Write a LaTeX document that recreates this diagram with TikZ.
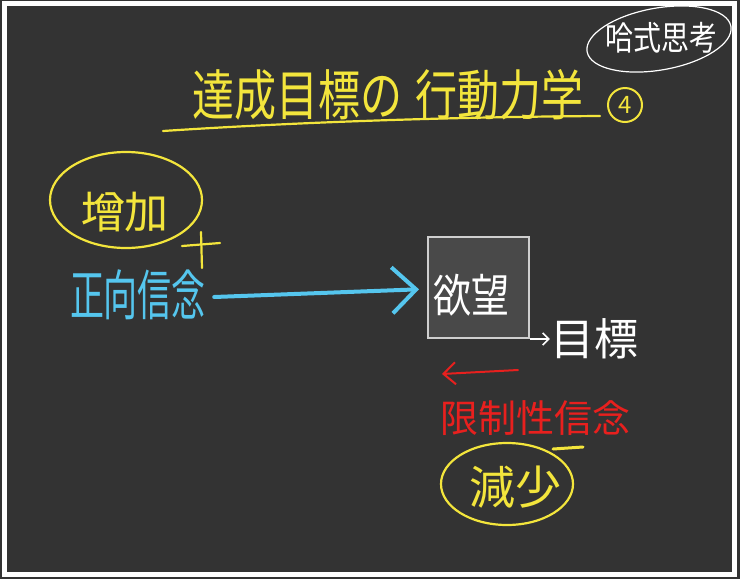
\documentclass[tikz,border=0pt]{standalone}
\usepackage{fontspec}
\newfontfamily\cjk{Noto Sans CJK JP}
\usetikzlibrary{arrows.meta}
\definecolor{bgc}{HTML}{333333}
\definecolor{yc}{HTML}{F3E53C}
\definecolor{cc}{HTML}{55C6EE}
\definecolor{rc}{HTML}{E8201E}
\definecolor{boxf}{HTML}{494949}
\definecolor{boxb}{HTML}{CFCFCF}
\newcommand\fsz[1]{\fontsize{#1pt}{#1pt}\selectfont}
\tikzset{
  ytext/.style={text=yc, font=\cjk\fsz{#1}, inner sep=0pt},
  ctext/.style={text=cc, font=\cjk\fsz{#1}, inner sep=0pt},
  rtext/.style={text=rc, font=\cjk\fsz{#1}, inner sep=0pt},
  wtext/.style={text=white, font=\cjk\fsz{#1}, inner sep=0pt},
  yline/.style={draw=yc, line width=2.2pt, line cap=round},
  wline/.style={draw=white, line width=1.2pt},
}
\begin{document}
\begin{tikzpicture}[x=1pt,y=-1pt]
\useasboundingbox (0,0) rectangle (740,579);
\fill[bgc] (0,0) rectangle (740,579);
\draw[white, line width=5pt] (4.5,3) rectangle (734.5,574);

% title
\node[ytext=42, yscale=1.3, transform shape] (title) at (388,95) {達成目標の\hspace{14pt}行動力学};
\coordinate (ul1) at (163,131);
\coordinate (ul2) at (600,116);
\draw[yline] (ul1) .. controls (300,122) and (450,117) .. (ul2);
\node[circle, draw=yc, line width=2pt, minimum size=34pt, inner sep=0pt, text=yc, font=\cjk\fsz{24}] (four) at (625,105) {4};

% top right
\node[wtext=28, yscale=1.2, transform shape] (hs) at (661,38) {哈式思考};
\draw[wline, rotate around={10:(659,39)}] (659,39) ellipse [x radius=73, y radius=31];

% increase
\node[ytext=44] (zj) at (125,212) {增加};
\draw[yline] (126,200) ellipse [x radius=76, y radius=48];
\draw[yline] (182,246) -- (220,243);
\draw[yline] (201,232) -- (202,268);

% positive belief
\node[ctext=34, yscale=1.6, transform shape] (zx) at (138,295) {正向信念};

% desire box
\node[draw=boxb, fill=boxf, line width=2pt, minimum width=101pt, minimum height=101pt, inner sep=0pt] (box) at (478.5,287.5) {};
\node[wtext=38, yscale=1.2, transform shape] (yw) at (471,295) {欲望};
\draw[cc, line width=4pt, line cap=round, -{Straight Barb[length=24pt,width=46pt,line width=4pt]}, shorten >=8pt] (zx.east) ++(8,2) -- (box.west |- 0,289);

% goal
\node[wtext=44] (mb) at (594,339) {目標};
\draw[white, line width=1.5pt, -{Straight Barb[length=6pt,width=12pt]}] (box.south east) -- (mb.west |- box.south east);

% red arrow
\coordinate (ra1) at (518,370);
\coordinate (ra2) at (442,374);
\draw[rc, line width=2pt, line cap=round, -{Straight Barb[length=12pt,width=22pt]}] (ra1) -- (ra2);
\node[rtext=38] (xz) at (535,418) {限制性信念};

% decrease
\node[ytext=46] (js) at (515,487) {減少};
\draw[yline] (507,484) ellipse [x radius=66, y radius=41];
\draw[yline, line width=3pt] (553,449) -- (583,447);
\end{tikzpicture}
\end{document}
